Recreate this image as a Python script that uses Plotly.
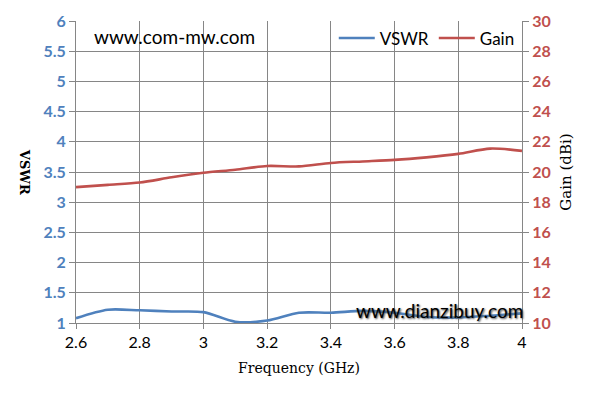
import plotly.graph_objects as go

freq = [2.6, 2.7, 2.8, 2.9, 3.0, 3.1, 3.2, 3.3, 3.4, 3.5, 3.6, 3.7, 3.8, 3.9, 4.0]
vswr = [1.08, 1.22, 1.21, 1.19, 1.18, 1.02, 1.04, 1.17, 1.17, 1.2, 1.17, 1.1, 1.09, 1.12, 1.16]
gain = [19.0, 19.15, 19.3, 19.65, 19.95, 20.15, 20.4, 20.37, 20.6, 20.7, 20.8, 20.97, 21.2, 21.55, 21.4]

x_ticks = [2.6, 2.8, 3.0, 3.2, 3.4, 3.6, 3.8, 4.0]
x_labels = ["2.6", "2.8", "3", "3.2", "3.4", "3.6", "3.8", "4"]
vswr_ticks = [1, 1.5, 2, 2.5, 3, 3.5, 4, 4.5, 5, 5.5, 6]
vswr_labels = ["1", "1.5", "2", "2.5", "3", "3.5", "4", "4.5", "5", "5.5", "6"]
gain_ticks = [10, 12, 14, 16, 18, 20, 22, 24, 26, 28, 30]

BLUE = "#4F81BD"
RED = "#C0504D"
GRID = "#868686"

fig = go.Figure()
fig.add_trace(go.Scatter(x=freq, y=vswr, name="VSWR", mode="lines",
                         line=dict(color=BLUE, width=2.6, shape="spline", smoothing=0.8)))
fig.add_trace(go.Scatter(x=freq, y=gain, name="Gain", mode="lines", yaxis="y2",
                         line=dict(color=RED, width=2.6, shape="spline", smoothing=0.8)))

# page body has an 8px margin, so the figure is drawn 8px in from the window corner
fig.update_layout(
    width=587, height=396,
    margin=dict(l=68, r=73, t=13, b=81, autoexpand=False),
    paper_bgcolor="white", plot_bgcolor="white",
    showlegend=True,
    legend=dict(orientation="h", x=0.995, xanchor="right", y=1.002, yanchor="top",
                font=dict(family="Lato", size=17, color="black"),
                bgcolor="rgba(0,0,0,0)", itemwidth=36, tracegroupgap=0),
    xaxis=dict(range=[2.6, 4.0], tickvals=x_ticks, ticktext=x_labels, automargin=False,
               showgrid=True, gridcolor=GRID, gridwidth=1,
               showline=True, linecolor=GRID, linewidth=1, mirror=False,
               ticks="outside", ticklen=5, tickcolor=GRID,
               tickfont=dict(family="Lato", size=16, color="black"),
               zeroline=False,
               title=dict(text="Frequency (GHz)", standoff=12,
                          font=dict(family="DejaVu Serif", size=14, color="black"))),
    yaxis=dict(range=[1, 6], tickvals=vswr_ticks, ticktext=vswr_labels, automargin=False,
               showgrid=True, gridcolor=GRID, gridwidth=1,
               showline=True, linecolor=GRID, linewidth=1,
               ticks="outside", ticklen=6, tickcolor=GRID,
               tickfont=dict(family="Lato", size=16, color=BLUE, weight="bold"),
               zeroline=False),
    yaxis2=dict(range=[10, 30], tickvals=gain_ticks, overlaying="y", side="right",
                automargin=False,
                showgrid=False, showline=True, linecolor=GRID, linewidth=1,
                ticks="outside", ticklen=6, tickcolor=GRID,
                tickfont=dict(family="Lato", size=16, color=RED, weight="bold"),
                zeroline=False,
                title=dict(text="Gain (dBi)", standoff=10,
                           font=dict(family="DejaVu Serif", size=15, color="black"))),
)

fig.add_annotation(text="VSWR", xref="paper", yref="paper", x=-0.114, y=0.5,
                   xanchor="center", yanchor="middle", textangle=90, showarrow=False,
                   font=dict(family="DejaVu Serif", size=13, color="black", weight="bold"))
fig.add_annotation(text="www.com-mw.com", xref="paper", yref="paper", x=0.035, y=0.95,
                   xanchor="left", yanchor="middle", showarrow=False,
                   font=dict(family="Lato", size=19, color="black"))
fig.add_annotation(text="www.dianzibuy.com", xref="paper", yref="paper", x=1.006, y=0.04,
                   xanchor="right", yanchor="middle", showarrow=False,
                   font=dict(family="Lato", size=19, color="black",
                             shadow="1px 1px 2px #444"))

fig.write_html("out.html")
